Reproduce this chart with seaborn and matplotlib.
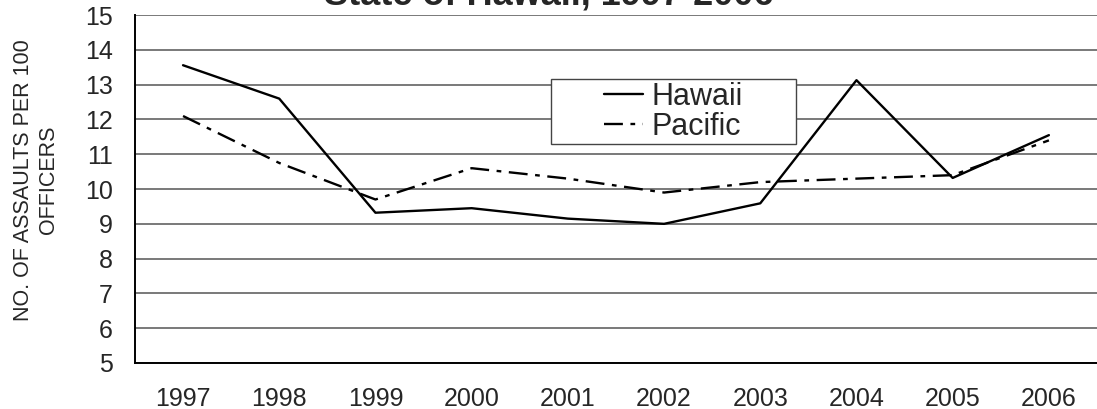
import matplotlib
matplotlib.use('Agg')
import matplotlib.pyplot as plt
from matplotlib.patches import Rectangle
import seaborn as sns
import pandas as pd

# data
years = ['1997', '1998', '1999', '2000', '2001', '2002', '2003', '2004', '2005', '2006']
hawaii = [13.56, 12.6, 9.32, 9.45, 9.15, 9.0, 9.59, 13.13, 10.32, 11.55]
pacific = [12.1, 10.75, 9.7, 10.6, 10.3, 9.9, 10.2, 10.3, 10.4, 11.4]

df = pd.DataFrame({
    'year': years * 2,
    'value': hawaii + pacific,
    'series': ['Hawaii'] * len(years) + ['Pacific'] * len(years),
})

sns.set_style('white')
plt.rcParams['font.family'] = ['Liberation Sans', 'DejaVu Sans']

fig = plt.figure(figsize=(10.97, 4.09), dpi=100)
ax = fig.add_axes([0.123, 0.1125, 0.877, 0.8505])

sns.lineplot(data=df, x='year', y='value', style='series', color='black',
             dashes={'Hawaii': '', 'Pacific': (8, 3.2, 2, 3.2)},
             linewidth=1.7, ax=ax, sort=False)

ax.set_xlim(-0.5, len(years) - 0.5)
ax.set_ylim(5, 15)
ax.set_yticks(range(5, 16))
ax.yaxis.grid(True, color='#6e6e6e', linewidth=1.3)
ax.set_axisbelow(True)
for s in ['top', 'right']:
    ax.spines[s].set_visible(False)
ax.spines['left'].set_color('black')
ax.spines['bottom'].set_color('black')
ax.spines['left'].set_linewidth(1.4)
ax.spines['bottom'].set_linewidth(1.4)
ax.tick_params(axis='both', length=0, labelsize=18)
ax.tick_params(axis='x', pad=17)
ax.tick_params(axis='y', pad=16)
ax.set_xlabel('')
ax.set_ylabel('NO. OF ASSAULTS PER 100\nOFFICERS', fontsize=15.5, linespacing=1.25)
ax.yaxis.label.set_verticalalignment('center')
ax.yaxis.set_label_coords(-0.103, 0.526)

# legend, frame drawn separately (wide side padding as in reference)
leg = ax.legend(loc='center', bbox_to_anchor=(0.560, 0.721), fontsize=22,
                frameon=False, handlelength=1.25, handletextpad=0.3,
                labelspacing=0.0, borderpad=0, borderaxespad=0)
for line in leg.get_lines():
    line.set_linewidth(1.7)
ax.add_patch(Rectangle((0.432, 0.629), 0.255, 0.187, transform=ax.transAxes,
                       fill=True, facecolor='white', edgecolor='#444444',
                       linewidth=1.0, zorder=4))
leg.set_zorder(5)

fig.text(0.5, 0.988, 'State of Hawaii, 1997-2006', ha='center', va='baseline',
         fontsize=26, fontweight='bold')

fig.savefig('out.png', dpi=100)
